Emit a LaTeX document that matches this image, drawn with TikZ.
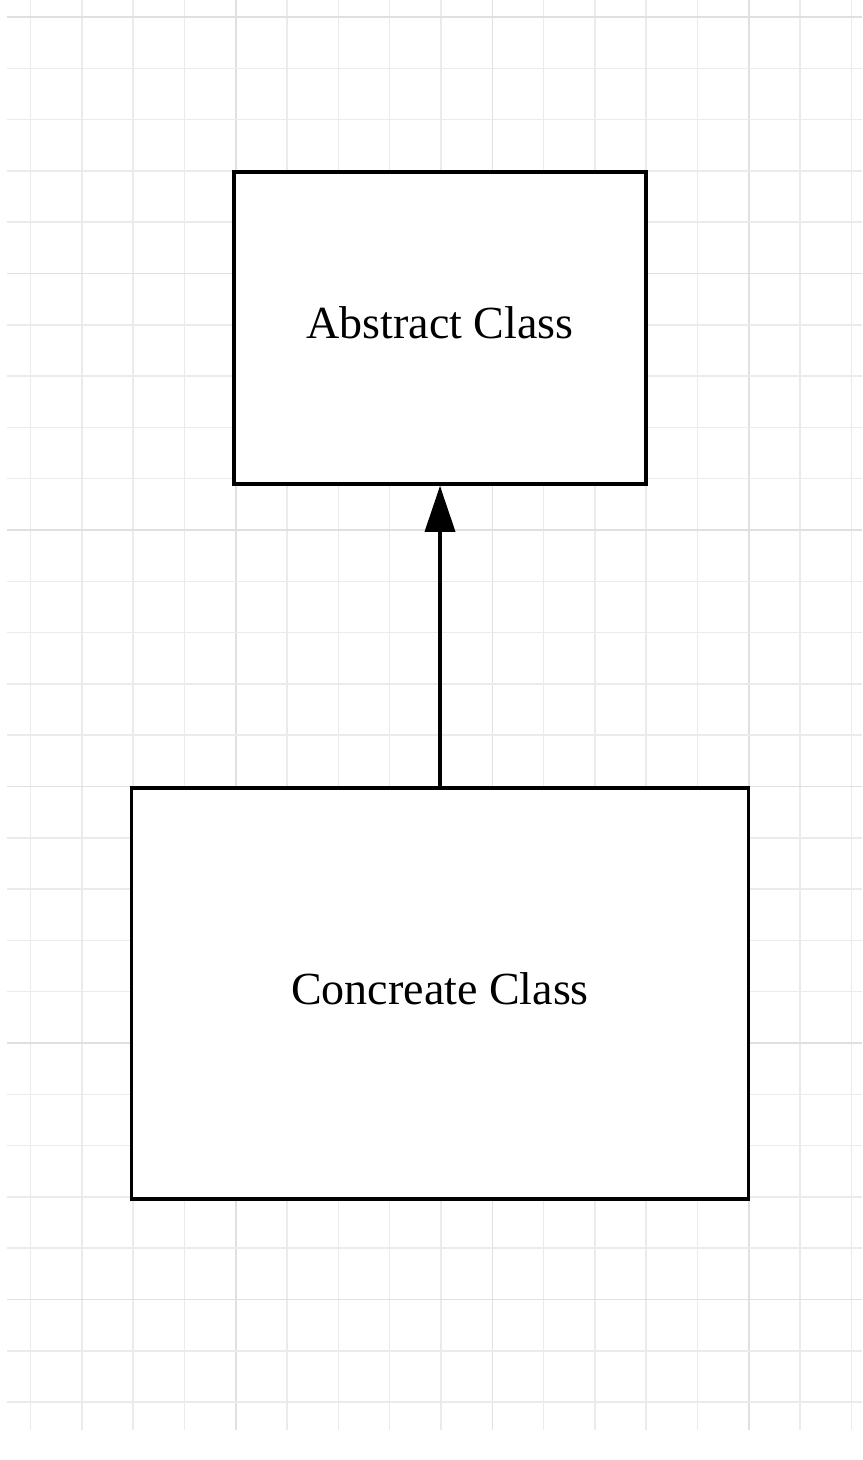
\documentclass[tikz,border=0pt]{standalone}
\usepackage{fontspec}
\setmainfont{Liberation Serif}
\usetikzlibrary{arrows.meta}

\begin{document}
\begin{tikzpicture}[x=0.5pt, y=-0.5pt]
	\tikzstyle{minor} = [ draw=black!8, line width=0.75pt ];
	\tikzstyle{major} = [ draw=black!12, line width=0.75pt ];
	\tikzstyle{class} = [ draw, rectangle, line width=1.8pt, fill=white, inner sep=0pt ];
	\tikzstyle{title} = [ anchor=base, font={\fontsize{23}{27}\selectfont} ];
	\tikzstyle{inherit} = [ -{Triangle[length=23pt, width=15pt]}, line width=1.8pt ];

	\useasboundingbox (0,0) rectangle (862,1460);

	% grid
	\foreach \i in {0,...,16} {
		\pgfmathparse{int(mod(\i,5))==4 ? "major" : "minor"}
		\draw[style=\pgfmathresult] (30.6+51.3*\i,0) -- (30.6+51.3*\i,1430);
	}
	\foreach \j in {0,...,27} {
		\pgfmathparse{int(mod(\j,5))==0 ? "major" : "minor"}
		\draw[style=\pgfmathresult] (7,17+51.3*\j) -- (862,17+51.3*\j);
	}

	\node[class, minimum width=206pt, minimum height=156pt] (abstract) at (440,328) {};
	\node[class, minimum width=308.5pt, minimum height=205.5pt] (concrete) at (440,993.5) {};

	\node[title] (abstracttext) at (440,338) {Abstract Class};
	\node[title] (concretetext) at (440,1004) {Concreate Class};

	\draw[inherit] (concrete.north) -- (abstract.south);
\end{tikzpicture}
\end{document}
